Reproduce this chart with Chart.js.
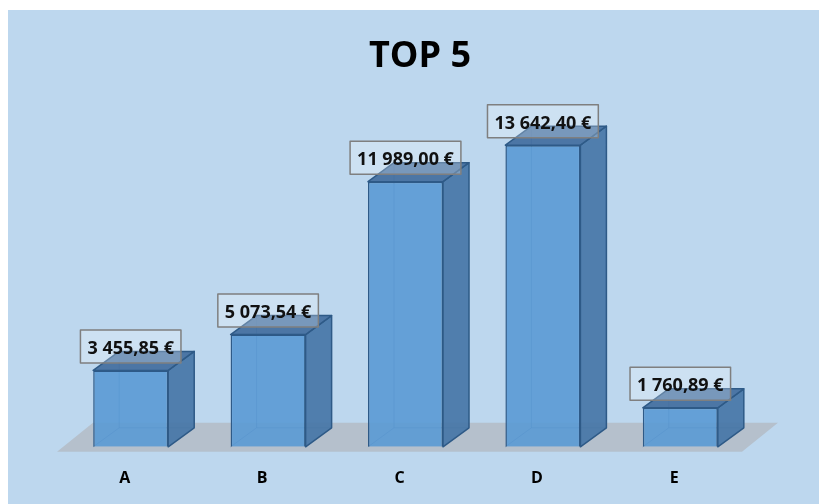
<!doctype html>
<html lang="en">
<head>
<meta charset="utf-8">
<title>Top 5</title>
<style>
  *{ box-sizing:border-box; margin:0; padding:0; }
  body{ background:#fff; }
  .chartbox{ position:absolute; left:8px; top:10px; width:811px; height:494px; background:#bdd7ee; }
</style>
</head>
<body>
<div class="chartbox"><canvas id="myChart" width="811" height="494"></canvas></div>

<script src="https://cdn.jsdelivr.net/npm/chart.js@4/dist/chart.umd.min.js"></script>
<script>
const categories = ['A', 'B', 'C', 'D', 'E'];
const totals = [3455.85, 5073.54, 11989.00, 13642.40, 1760.89];
const titleText = 'TOP 5';

// depth of each box, in pixels
const depthX = 26, depthY = -19;
const edgeColor = '#2e5a87';
const font = '"Open Sans", "DejaVu Sans", sans-serif';

function euro(v) {
  const parts = v.toFixed(2).split('.');
  const whole = parts[0].replace(/\B(?=(\d{3})+(?!\d))/g, ' ');
  return whole + ',' + parts[1] + ' €';
}

function boxOf(bar) {
  const p = bar.getProps(['x', 'y', 'base', 'width'], true);
  return { L: p.x - p.width / 2, R: p.x + p.width / 2, T: p.y, B: p.base, cx: p.x };
}

function poly(ctx, pts) {
  ctx.beginPath();
  ctx.moveTo(pts[0][0], pts[0][1]);
  for (let i = 1; i < pts.length; i++) ctx.lineTo(pts[i][0], pts[i][1]);
  ctx.closePath();
}

const boxes3d = {
  id: 'boxes3d',
  beforeDatasetsDraw(chart) {
    const ctx = chart.ctx, a = chart.chartArea;
    const y0 = chart.scales.y.getPixelForValue(0);
    ctx.save();
    // grey floor
    ctx.fillStyle = '#b5c0cc';
    poly(ctx, [[a.left - 5, y0 + 5], [a.right - 7, y0 + 5], [a.right + 29, y0 - 24], [a.left + 31, y0 - 24]]);
    ctx.fill();
    // back edges, seen through the front faces
    ctx.strokeStyle = 'rgba(46,90,135,0.45)';
    ctx.lineWidth = 1;
    chart.getDatasetMeta(0).data.forEach(bar => {
      const b = boxOf(bar);
      ctx.beginPath();
      ctx.moveTo(b.L + depthX, b.T + depthY);
      ctx.lineTo(b.L + depthX, b.B + depthY);
      ctx.lineTo(b.R + depthX, b.B + depthY);
      ctx.moveTo(b.L, b.B);
      ctx.lineTo(b.L + depthX, b.B + depthY);
      ctx.stroke();
    });
    ctx.restore();
  },
  afterDatasetsDraw(chart) {
    const ctx = chart.ctx;
    const meta = chart.getDatasetMeta(0);
    ctx.save();
    ctx.lineWidth = 1.5;
    ctx.strokeStyle = edgeColor;
    ctx.lineJoin = 'round';
    meta.data.forEach(bar => {
      const b = boxOf(bar);
      // right side
      ctx.fillStyle = 'rgba(70,118,167,0.92)';
      poly(ctx, [[b.R, b.T], [b.R + depthX, b.T + depthY], [b.R + depthX, b.B + depthY], [b.R, b.B]]);
      ctx.fill(); ctx.stroke();
      // top
      ctx.fillStyle = 'rgba(66,110,158,0.92)';
      poly(ctx, [[b.L, b.T], [b.L + depthX, b.T + depthY], [b.R + depthX, b.T + depthY], [b.R, b.T]]);
      ctx.fill(); ctx.stroke();
    });

    // value labels
    ctx.font = 'bold 18px ' + font;
    ctx.textAlign = 'center';
    ctx.textBaseline = 'alphabetic';
    meta.data.forEach((bar, i) => {
      const b = boxOf(bar);
      const txt = euro(totals[i]);
      const w = ctx.measureText(txt).width + 14;
      const h = 33;
      const cy = b.T - 24;
      ctx.fillStyle = 'rgba(255,255,255,0.25)';
      ctx.fillRect(b.cx - w / 2, cy - h / 2, w, h);
      ctx.strokeStyle = '#7f7f7f';
      ctx.lineWidth = 1.5;
      ctx.strokeRect(b.cx - w / 2, cy - h / 2, w, h);
      ctx.fillStyle = '#111';
      ctx.fillText(txt, b.cx, cy + 7.5);
    });
    ctx.restore();
  },
  afterDraw(chart) {
    const ctx = chart.ctx;
    ctx.save();
    ctx.font = 'bold 36px ' + font;
    ctx.fillStyle = '#000';
    ctx.textAlign = 'center';
    ctx.textBaseline = 'alphabetic';
    ctx.fillText(titleText, 412, 57);
    ctx.restore();
  }
};

const ctx = document.getElementById('myChart').getContext('2d');
const myChart = new Chart(ctx, {
  type: 'bar',
  data: {
    labels: categories,
    datasets: [{
      data: totals,
      backgroundColor: 'rgba(88,152,212,0.88)',
      borderColor: edgeColor,
      borderWidth: 1.5,
      barPercentage: 0.546,
      categoryPercentage: 1
    }]
  },
  options: {
    responsive: false,
    animation: false,
    layout: { padding: { left: 54, right: 70, top: 83, bottom: -6 } },
    plugins: {
      legend: { display: false },
      tooltip: { enabled: false },
      title: { display: false }
    },
    scales: {
      x: {
        grid: { display: false, drawTicks: false },
        border: { display: false },
        ticks: {
          color: '#000',
          font: { family: font, size: 16, weight: 'bold' },
          padding: 22,
          labelOffset: -6
        }
      },
      y: { display: false, min: 0, max: 16000 }
    }
  },
  plugins: [boxes3d]
});
</script>
</body>
</html>
